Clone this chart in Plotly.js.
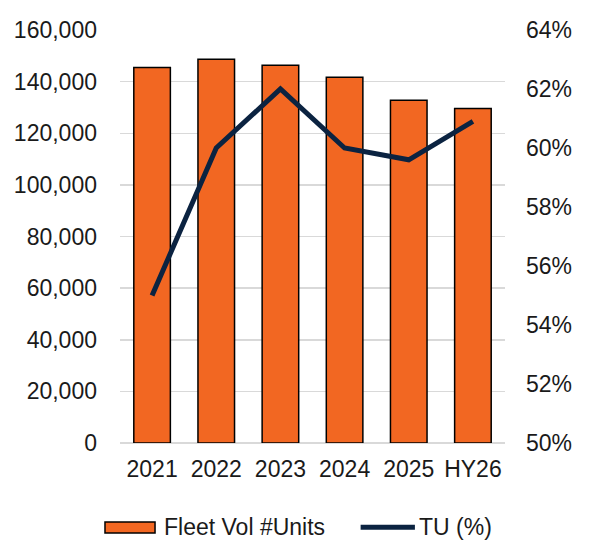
<!DOCTYPE html>
<html>
<head>
<meta charset="utf-8">
<script src="https://cdn.plot.ly/plotly-3.0.1.min.js"></script>
<style>html,body{margin:0;padding:0;background:#fff;}#chart{width:592px;height:546px;}</style>
</head>
<body>
<div id="chart"></div>
<script>
const categories = ["2021", "2022", "2023", "2024", "2025", "HY26"];
const fleetVolUnits = [145500, 148700, 146300, 141700, 132800, 129600];
const tuPercent = [0.550, 0.600, 0.620, 0.600, 0.596, 0.609];
const leftTicks = [0, 20000, 40000, 60000, 80000, 100000, 120000, 140000, 160000];
const rightTicks = [0.50, 0.52, 0.54, 0.56, 0.58, 0.60, 0.62, 0.64];
const seriesNames = ["Fleet Vol #Units", "TU (%)"];

const barColor = "#F26722";
const lineColor = "#0B2341";
const font = {family: "Liberation Sans, Arial, Helvetica, sans-serif", size: 23, color: "#1a1a1a"};

const traces = [
  {
    type: "bar", name: seriesNames[0], x: categories, y: fleetVolUnits,
    marker: {color: barColor, line: {color: "#000000", width: 1.5}},
    width: 0.57, yaxis: "y"
  },
  {
    type: "scatter", mode: "lines", name: seriesNames[1], x: categories, y: tuPercent,
    line: {color: lineColor, width: 5}, yaxis: "y2"
  }
];

// legend drawn as decoration below the plot (paper coordinates)
const legendShapes = [
  {type: "rect", xref: "paper", yref: "paper", x0: -0.039, x1: 0.091, y0: -0.218, y1: -0.191,
   fillcolor: barColor, line: {color: "#000000", width: 1.5}},
  {type: "line", xref: "paper", yref: "paper", x0: 0.625, x1: 0.766, y0: -0.204, y1: -0.204,
   line: {color: lineColor, width: 5}}
];
const legendAnnotations = [
  {xref: "paper", yref: "paper", x: 0.108, y: -0.204, xanchor: "left", yanchor: "middle",
   text: seriesNames[0], showarrow: false, font: font},
  {xref: "paper", yref: "paper", x: 0.771, y: -0.204, xanchor: "left", yanchor: "middle",
   text: seriesNames[1], showarrow: false, font: font}
];

const layout = {
  width: 592, height: 546,
  margin: {l: 120, r: 87, t: 30, b: 103},
  paper_bgcolor: "#ffffff", plot_bgcolor: "#ffffff",
  font: font,
  showlegend: false,
  bargap: 0.43,
  shapes: legendShapes,
  annotations: legendAnnotations,
  xaxis: {type: "category", showgrid: false, showline: false, zeroline: false,
          ticks: "", ticklabelstandoff: 10, tickfont: font, fixedrange: true, automargin: false},
  yaxis: {range: [0, 160000], tickvals: leftTicks, tickformat: ",", showgrid: true,
          gridcolor: "#d9d9d9", gridwidth: 1.5, zeroline: true, zerolinecolor: "#d9d9d9",
          zerolinewidth: 1.5, showline: false, ticks: "", ticklabelstandoff: 22,
          tickfont: font, fixedrange: true, automargin: false},
  yaxis2: {range: [0.50, 0.64], tickvals: rightTicks, tickformat: ".0%", overlaying: "y",
           side: "right", showgrid: false, zeroline: false, showline: false, ticks: "",
           ticklabelstandoff: 20, tickfont: font, fixedrange: true, automargin: false}
};

Plotly.newPlot("chart", traces, layout, {displayModeBar: false, staticPlot: true});
</script>
</body>
</html>
